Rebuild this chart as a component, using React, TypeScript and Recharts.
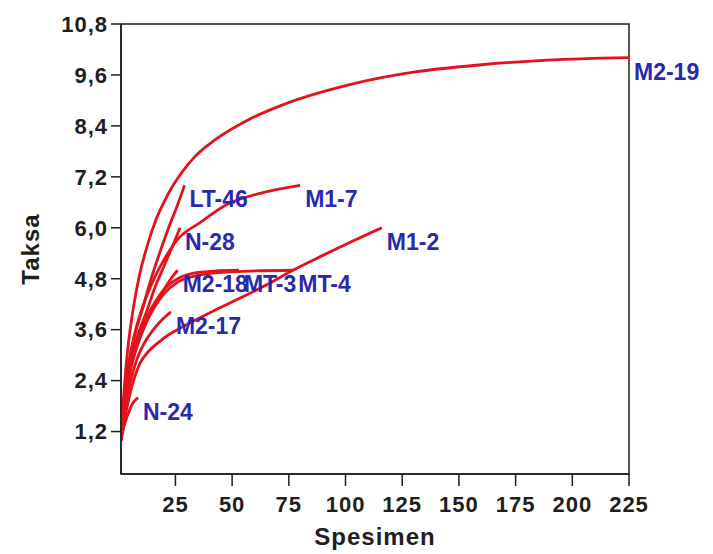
import { Label, Line, LineChart, ReferenceArea, XAxis, YAxis } from "recharts";

// rarefaction curves, x = specimens, y = taxa
const m219X = [1, 2, 3, 4, 6.3, 9, 13, 16.5, 20.4, 24, 27.9, 34, 42.4, 57, 72, 101, 130.6, 160, 189, 225];
const m219Y = [1.0, 1.9, 2.6, 3.15, 4.06, 4.85, 5.65, 6.2, 6.65, 7.0, 7.31, 7.7, 8.07, 8.54, 8.89, 9.36, 9.67, 9.84, 9.95, 10.01];

const lt46X = [1, 2, 3, 5, 7, 10.3, 14, 18, 22, 26, 29];
const lt46Y = [1.0, 1.7, 2.25, 2.95, 3.45, 4.06, 4.75, 5.4, 6.0, 6.55, 7.0];

const n28X = [1, 2, 3, 5, 8, 12.5, 16, 20, 24, 27];
const n28Y = [1.0, 1.65, 2.15, 2.8, 3.4, 4.06, 4.6, 5.1, 5.6, 6.0];

const m218X = [1, 2, 3, 5, 8, 12, 16, 20, 23, 26];
const m218Y = [1.0, 1.6, 2.05, 2.65, 3.2, 3.75, 4.2, 4.55, 4.8, 5.0];

const mt3X = [1, 2, 3, 5, 8, 12, 16, 20, 26, 33, 42, 53];
const mt3Y = [1.0, 1.6, 2.05, 2.7, 3.3, 3.85, 4.25, 4.55, 4.8, 4.93, 4.98, 5.0];

const mt4X = [1, 2, 3, 5, 8, 12, 16, 20, 26, 35, 45, 58, 77];
const mt4Y = [1.0, 1.55, 2.0, 2.6, 3.2, 3.75, 4.15, 4.45, 4.72, 4.88, 4.95, 4.98, 5.0];

const m217X = [1, 2, 3, 5, 8, 12, 16, 20, 23];
const m217Y = [1.0, 1.5, 1.85, 2.35, 2.9, 3.35, 3.65, 3.88, 4.02];

const m17X = [1, 2, 3, 5, 8, 12, 16, 20, 25.7, 35.8, 47.7, 61.4, 80];
const m17Y = [1.0, 1.75, 2.3, 3.0, 3.7, 4.35, 4.85, 5.25, 5.71, 6.12, 6.55, 6.8, 7.0];

const m12X = [1, 3, 6, 9.4, 13, 17.3, 22, 27.9, 35, 42.4, 55, 65, 76.8, 90, 103, 116];
const m12Y = [1.0, 1.6, 2.3, 2.81, 3.08, 3.29, 3.48, 3.66, 3.86, 4.06, 4.38, 4.65, 5.0, 5.35, 5.68, 6.0];

const n24X = [1, 2, 4, 6, 8.5];
const n24Y = [1.0, 1.25, 1.6, 1.85, 2.0];

const xTicks = [25, 50, 75, 100, 125, 150, 175, 200, 225];
const yTicks = [1.2, 2.4, 3.6, 4.8, 6.0, 7.2, 8.4, 9.6, 10.8];

const zip = (xs: number[], ys: number[]) => xs.map((x, i) => ({ x, y: ys[i] }));

const series = [
  { name: "M2-19", data: zip(m219X, m219Y) },
  { name: "LT-46", data: zip(lt46X, lt46Y) },
  { name: "N-28", data: zip(n28X, n28Y) },
  { name: "M2-18", data: zip(m218X, m218Y) },
  { name: "MT-3", data: zip(mt3X, mt3Y) },
  { name: "MT-4", data: zip(mt4X, mt4Y) },
  { name: "M2-17", data: zip(m217X, m217Y) },
  { name: "M1-7", data: zip(m17X, m17Y) },
  { name: "M1-2", data: zip(m12X, m12Y) },
  { name: "N-24", data: zip(n24X, n24Y) },
];

const FONT = "'Liberation Sans', Arial, sans-serif";
const tickStyle = { fontFamily: FONT, fontSize: 22, fontWeight: 700, fill: "#1e1e1e", letterSpacing: 1 };

const endLabel = (name: string, last: number) => (p: any) =>
  p.index === last ? (
    <text
      key={name}
      x={p.x + 5}
      y={p.y + 22}
      fill="#2828b0"
      fontFamily={FONT}
      fontSize={23}
      fontWeight={700}
    >
      {name}
    </text>
  ) : (
    <g key={`${name}-${p.index}`} />
  );

export default function App() {
  return (
    <div style={{ position: "absolute", left: 0, top: 0, background: "#fff" }}>
      <LineChart width={713} height={554} margin={{ top: 24, right: 84, bottom: 0, left: 0 }}>
        <XAxis
          type="number"
          dataKey="x"
          domain={[1, 225]}
          ticks={xTicks}
          allowDataOverflow
          stroke="#1e1e1e"
          strokeWidth={1.5}
          tickSize={12}
          tickMargin={10}
          height={80}
          tick={tickStyle}
        >
          <Label
            content={({ viewBox }: any) => (
              <text
                x={viewBox.x + viewBox.width / 2}
                y={545}
                textAnchor="middle"
                fontFamily={FONT}
                fontSize={24}
                fontWeight={700}
                fill="#1e1e1e"
                letterSpacing={1}
              >
                Spesimen
              </text>
            )}
          />
        </XAxis>
        <YAxis
          type="number"
          domain={[0.2, 10.8]}
          ticks={yTicks}
          allowDataOverflow
          width={121}
          stroke="#1e1e1e"
          strokeWidth={1.5}
          tickSize={10}
          tickMargin={3}
          tick={tickStyle}
          tickFormatter={(v: number) => v.toFixed(1).replace(".", ",")}
        >
          <Label
            content={({ viewBox }: any) => (
              <text
                x={30}
                y={viewBox.y + viewBox.height / 2}
                transform={`rotate(-90 30 ${viewBox.y + viewBox.height / 2})`}
                textAnchor="middle"
                dominantBaseline="central"
                fontFamily={FONT}
                fontSize={24}
                fontWeight={700}
                fill="#1e1e1e"
                letterSpacing={1}
              >
                Taksa
              </text>
            )}
          />
        </YAxis>
        <ReferenceArea x1={1} x2={225} y1={0.2} y2={10.8} fill="none" stroke="#1e1e1e" strokeWidth={1.5} />
        {series.map((s) => (
          <Line
            key={s.name}
            data={s.data}
            dataKey="y"
            type="monotone"
            stroke="#e3121b"
            strokeWidth={2.8}
            dot={false}
            activeDot={false}
            isAnimationActive={false}
            label={endLabel(s.name, s.data.length - 1)}
          />
        ))}
      </LineChart>
    </div>
  );
}
